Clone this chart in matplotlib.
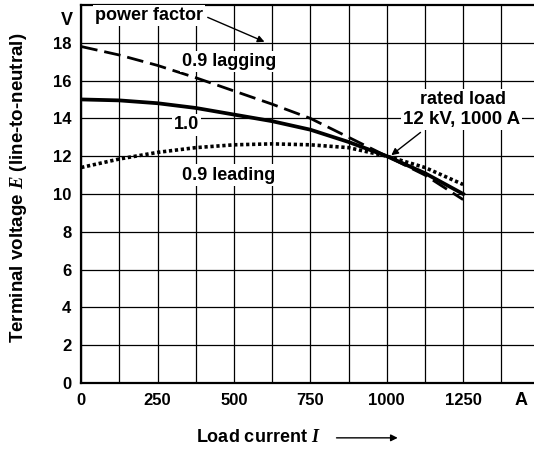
import matplotlib.pyplot as plt
import numpy as np

# load current (A) and terminal voltage (kV, line-to-neutral)
current = [0, 125, 250, 375, 500, 625, 750, 875, 1000, 1125, 1250]
v_lagging = [17.8, 17.35, 16.8, 16.15, 15.45, 14.75, 14.0, 13.0, 12.0, 11.0, 9.7]
v_unity = [15.0, 14.95, 14.8, 14.55, 14.2, 13.85, 13.4, 12.75, 12.0, 11.1, 10.0]
v_leading = [11.4, 11.85, 12.2, 12.45, 12.6, 12.65, 12.6, 12.45, 12.0, 11.4, 10.5]

x_ticks = [0, 250, 500, 750, 1000, 1250]
y_ticks = [0, 2, 4, 6, 8, 10, 12, 14, 16, 18]

plt.rcParams['font.family'] = ['Liberation Sans', 'DejaVu Sans']
plt.rcParams['font.weight'] = 'bold'
plt.rcParams['mathtext.fontset'] = 'custom'
plt.rcParams['mathtext.it'] = 'Liberation Serif:italic'

fs = 13

fig = plt.figure(figsize=(5.34, 4.5), dpi=100)
ax = fig.add_axes([0.152, 0.149, 0.848, 0.84])

ax.set_xlim(0, 1482)
ax.set_ylim(0, 20)
ax.set_xticks(np.arange(0, 1482, 125), minor=True)
ax.set_xticks(x_ticks)
ax.set_yticks(y_ticks)
ax.tick_params(which='both', length=0, labelsize=12, pad=7)
for lab in ax.get_xticklabels() + ax.get_yticklabels():
    lab.set_fontweight('bold')
ax.grid(True, which='both', color='black', lw=0.9)
ax.set_axisbelow(True)
for side in ['left', 'bottom', 'top']:
    ax.spines[side].set_linewidth(1.6)
ax.spines['right'].set_visible(False)

# characteristic curves
ax.plot(current, v_lagging, color='black', lw=2.0, dashes=(6, 2.5))
ax.plot(current, v_unity, color='black', lw=2.7)
ax.plot(current, v_leading, color='black', lw=2.6, linestyle=(0, (0.9, 0.75)),
        dash_capstyle='butt')

# unit labels at the axis ends
ax.text(-46, 19.2, 'V', ha='center', va='center', fontsize=fs, fontweight='bold',
        clip_on=False)
ax.text(1440, -0.95, 'A', ha='center', va='center', fontsize=fs, fontweight='bold',
        clip_on=False)

box = dict(facecolor='white', edgecolor='none', pad=1.5)
ax.text(484, 17.0, '0.9 lagging', ha='center', va='center', fontsize=fs,
        fontweight='bold', bbox=box)
ax.text(345, 13.65, '1.0', ha='center', va='center', fontsize=fs,
        fontweight='bold', bbox=box)
ax.text(484, 11.0, '0.9 leading', ha='center', va='center', fontsize=fs,
        fontweight='bold', bbox=box)
ax.annotate('power factor', xy=(600, 18.05), xytext=(222, 19.45), ha='center',
            va='center', fontsize=fs, fontweight='bold', bbox=box,
            arrowprops=dict(arrowstyle='-|>', color='black', lw=1.0,
                            shrinkA=2, shrinkB=0, mutation_scale=10,
                            relpos=(1.0, 0.5)))
ax.text(1250, 15.0, 'rated load', ha='center', va='center', fontsize=fs,
        fontweight='bold', bbox=box)
ax.annotate('12 kV, 1000 A', xy=(1015, 12.05), xytext=(1245, 13.95), ha='center',
            va='center', fontsize=13.5, fontweight='bold', bbox=box,
            arrowprops=dict(arrowstyle='-|>', color='black', lw=1.0,
                            shrinkA=3, shrinkB=0, mutation_scale=10,
                            relpos=(0.2, 0.0)))

fig.text(0.034, 0.582, r'Terminal voltage $E$ (line-to-neutral)', rotation=90,
         ha='center', va='center', fontsize=13.5, fontweight='bold')
fig.text(0.6, 0.027, r'Load current $I$', ha='right', va='center',
         fontsize=fs, fontweight='bold')
fig.add_artist(plt.matplotlib.patches.FancyArrowPatch(
    (0.625, 0.027), (0.75, 0.027), transform=fig.transFigure,
    arrowstyle='-|>', mutation_scale=10, color='black', lw=1.0))

fig.savefig('out.png', dpi=100)
